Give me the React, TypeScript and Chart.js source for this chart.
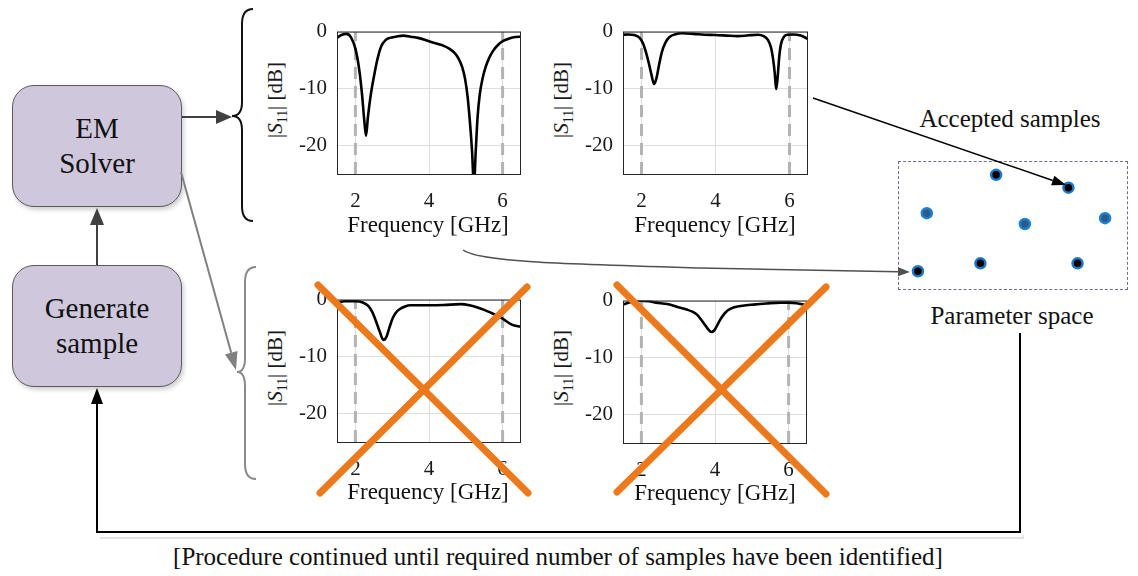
import React, { useEffect, useRef } from 'react';
import { Chart, registerables } from 'chart.js';

Chart.register(...registerables);

const SERIF = "'Liberation Serif', 'DejaVu Serif', serif";

// ---------- data ----------
const freqTicks = [2, 4, 6];
const dbTicks = [0, -10, -20];
const bandFreqs = [2, 6];
const freqMin = 1.5;
const freqMax = 6.5;
const dbMin = -25;
const dbMax = 0;

const freqA = [1.5, 1.62, 1.76, 1.88, 2.0, 2.1, 2.18, 2.24, 2.29, 2.34, 2.42, 2.5, 2.6, 2.7, 2.82, 2.94, 3.1, 3.3, 3.5, 3.7, 4.0, 4.2, 4.4, 4.55, 4.7, 4.8, 4.9, 4.98, 5.05, 5.12, 5.17, 5.22, 5.27, 5.32, 5.38, 5.45, 5.54, 5.63, 5.75, 5.88, 6.03, 6.2, 6.35, 6.5];
const s11A = [-1.1, -0.6, -0.4, -1.0, -3.0, -6.5, -11, -15.5, -18.3, -15, -11, -8.0, -4.8, -2.6, -1.5, -1.1, -0.9, -0.7, -0.9, -1.1, -1.7, -2.1, -2.5, -3.0, -3.8, -4.7, -6.2, -8.3, -11.5, -16.5, -21, -27, -21, -15, -11, -8.4, -6.2, -4.7, -3.3, -2.3, -1.6, -1.15, -0.95, -0.9];

const freqB = [1.5, 1.65, 1.8, 1.95, 2.05, 2.12, 2.2, 2.27, 2.34, 2.4, 2.47, 2.55, 2.65, 2.75, 2.9, 3.1, 3.4, 3.7, 4.0, 4.3, 4.6, 4.9, 5.15, 5.3, 5.42, 5.5, 5.56, 5.6, 5.64, 5.68, 5.72, 5.77, 5.85, 5.95, 6.1, 6.3, 6.5];
const s11B = [-0.55, -0.5, -0.6, -1.1, -2.2, -3.6, -5.6, -7.6, -9.2, -8.3, -6.0, -3.6, -1.9, -1.0, -0.5, -0.3, -0.4, -0.55, -0.6, -0.7, -0.8, -0.65, -0.55, -0.8, -1.5, -2.8, -5.0, -7.2, -10.1, -8.0, -4.6, -2.2, -0.9, -0.55, -0.5, -0.7, -1.3];

const freqC = [1.5, 1.7, 2.0, 2.2, 2.35, 2.46, 2.56, 2.66, 2.76, 2.84, 2.92, 3.01, 3.1, 3.2, 3.35, 3.5, 3.8, 4.05, 4.4, 4.87, 5.1, 5.32, 5.5, 5.68, 5.85, 5.95, 6.1, 6.25, 6.5];
const s11C = [-0.55, -0.3, -0.3, -0.5, -1.1, -2.2, -3.8, -5.6, -7.1, -6.6, -5.0, -3.3, -2.3, -1.7, -1.2, -1.0, -1.0, -1.0, -0.95, -0.8, -1.0, -1.4, -1.8, -2.3, -2.8, -3.1, -3.8, -4.4, -4.8];

const freqD = [1.5, 1.7, 1.95, 2.2, 2.4, 2.7, 3.03, 3.25, 3.4, 3.53, 3.63, 3.72, 3.81, 3.9, 3.97, 4.03, 4.12, 4.22, 4.35, 4.5, 4.75, 5.04, 5.4, 5.77, 6.0, 6.22, 6.4, 6.5];
const s11D = [-0.7, -0.3, 0, -0.1, -0.35, -0.6, -1.2, -1.6, -2.0, -2.6, -3.4, -4.2, -5.0, -5.5, -5.3, -4.7, -3.6, -2.6, -1.7, -1.2, -0.9, -0.7, -0.5, -0.35, -0.35, -0.45, -0.7, -1.0];

// parameter space samples (normalised 0..10)
const acceptedX = [4.26, 7.43, 0.83, 3.57, 7.83];
const acceptedY = [8.99, 7.98, 1.4, 2.02, 2.02];
const rejectedX = [1.22, 5.52, 9.04];
const rejectedY = [5.97, 5.12, 5.58];

// ---------- helpers ----------
const boxPlugin = {
  id: 'boxFrame',
  afterDraw(chart: any) {
    const { ctx, chartArea } = chart;
    ctx.save();
    ctx.strokeStyle = '#262626';
    ctx.lineWidth = 1;
    ctx.strokeRect(chartArea.left + 0.5, chartArea.top + 0.5, chartArea.right - chartArea.left - 1, chartArea.bottom - chartArea.top);
    ctx.restore();
  },
};

type S11Props = { left: number; top: number; width: number; height: number; freq: number[]; db: number[] };

function S11Chart({ left, top, width, height, freq, db }: S11Props) {
  const ref = useRef<HTMLCanvasElement | null>(null);
  useEffect(() => {
    if (!ref.current) return;
    const tickFont = { family: SERIF, size: 21 };
    const chart = new Chart(ref.current, {
      type: 'scatter',
      data: {
        datasets: [
          {
            data: freq.map((x, i) => ({ x, y: db[i] })),
            showLine: true,
            borderColor: '#000',
            borderWidth: 2.6,
            pointRadius: 0,
            cubicInterpolationMode: 'monotone',
          } as any,
          ...bandFreqs.map((f) => ({
            data: [
              { x: f, y: dbMin },
              { x: f, y: dbMax },
            ],
            showLine: true,
            borderColor: '#b3b3b3',
            borderWidth: 3,
            borderDash: [12, 7],
            pointRadius: 0,
          })),
        ],
      },
      options: {
        animation: false,
        responsive: false,
        events: [],
        plugins: { legend: { display: false }, tooltip: { enabled: false } },
        layout: { autoPadding: false, padding: { top: 16, right: 6, left: 0, bottom: 0 } },
        scales: {
          x: {
            type: 'linear',
            min: freqMin,
            max: freqMax,
            afterBuildTicks: (s: any) => {
              s.ticks = freqTicks.map((v) => ({ value: v }));
            },
            afterFit: (s: any) => {
              s.height = 40;
            },
            grid: { color: '#dedede', drawTicks: false },
            border: { display: false },
            ticks: { padding: 15, font: tickFont, color: '#1a1a1a', maxRotation: 0, autoSkip: false, callback: (v: any) => String(v) },
          },
          y: {
            type: 'linear',
            min: dbMin,
            max: dbMax,
            afterBuildTicks: (s: any) => {
              s.ticks = dbTicks.map((v) => ({ value: v }));
            },
            afterFit: (s: any) => {
              s.width = 47;
            },
            grid: { color: '#dedede', drawTicks: false },
            border: { display: false },
            ticks: { padding: 10, font: tickFont, color: '#1a1a1a', autoSkip: false, callback: (v: any) => String(v) },
          },
        },
      } as any,
      plugins: [boxPlugin],
    });
    return () => chart.destroy();
  }, []);
  return (
    <canvas
      ref={ref}
      width={width}
      height={height}
      style={{ position: 'absolute', left, top, width, height }}
    />
  );
}

function ParamChart() {
  const ref = useRef<HTMLCanvasElement | null>(null);
  useEffect(() => {
    if (!ref.current) return;
    const chart = new Chart(ref.current, {
      type: 'scatter',
      data: {
        datasets: [
          {
            data: acceptedX.map((x, i) => ({ x, y: acceptedY[i] })),
            pointRadius: 5,
            pointBorderWidth: 2.5,
            pointBackgroundColor: '#000',
            pointBorderColor: '#1d78c8',
            clip: false,
          } as any,
          {
            data: rejectedX.map((x, i) => ({ x, y: rejectedY[i] })),
            pointRadius: 5,
            pointBorderWidth: 2.5,
            pointBackgroundColor: '#2e5a88',
            pointBorderColor: '#1e82d2',
            clip: false,
          } as any,
        ],
      },
      options: {
        animation: false,
        responsive: false,
        events: [],
        plugins: { legend: { display: false }, tooltip: { enabled: false } },
        layout: { autoPadding: false, padding: 0 },
        scales: {
          x: { type: 'linear', display: false, min: 0, max: 10 },
          y: { type: 'linear', display: false, min: 0, max: 10 },
        },
      } as any,
    });
    return () => chart.destroy();
  }, []);
  return <canvas ref={ref} width={228} height={127} style={{ position: 'absolute', left: 0, top: 0, width: 228, height: 127 }} />;
}

function Label({ x, y, size, children, rotate, color }: { x: number; y: number; size: number; children: any; rotate?: number; color?: string }) {
  return (
    <div
      style={{
        position: 'absolute',
        left: x,
        top: y,
        transform: `translate(-50%, -50%)${rotate ? ` rotate(${rotate}deg)` : ''}`,
        whiteSpace: 'nowrap',
        fontFamily: SERIF,
        fontSize: size,
        lineHeight: 1,
        color: color || '#111',
      }}
    >
      {children}
    </div>
  );
}

function S11Title({ x, y }: { x: number; y: number }) {
  return (
    <Label x={x} y={y} size={21} rotate={-90} color="#1a1a1a">
      |<i>S</i>
      <span style={{ fontSize: '0.65em', position: 'relative', top: '0.35em' }}>11</span>| [dB]
    </Label>
  );
}

function head(x1: number, y1: number, x2: number, y2: number, len: number, w: number) {
  const dx = x2 - x1;
  const dy = y2 - y1;
  const L = Math.hypot(dx, dy);
  const ux = dx / L;
  const uy = dy / L;
  const bx = x2 - ux * len;
  const by = y2 - uy * len;
  const px = -uy * (w / 2);
  const py = ux * (w / 2);
  return { pts: `${x2},${y2} ${bx + px},${by + py} ${bx - px},${by - py}`, bx, by };
}

function Arrow({ x1, y1, x2, y2, color, width, len, w }: { x1: number; y1: number; x2: number; y2: number; color: string; width: number; len: number; w: number }) {
  const h = head(x1, y1, x2, y2, len, w);
  return (
    <g>
      <line x1={x1} y1={y1} x2={h.bx} y2={h.by} stroke={color} strokeWidth={width} />
      <polygon points={h.pts} fill={color} />
    </g>
  );
}

function Block({ top, lines }: { top: number; lines: string[] }) {
  return (
    <div
      style={{
        position: 'absolute',
        left: 12,
        top,
        width: 170,
        height: 122,
        boxSizing: 'border-box',
        borderRadius: 22,
        background: '#cfc8dc',
        border: '1px solid #5a5a5a',
        boxShadow: '2px 3px 4px rgba(0,0,0,0.18)',
        display: 'flex',
        flexDirection: 'column',
        alignItems: 'center',
        justifyContent: 'center',
        fontFamily: SERIF,
        fontSize: 29,
        lineHeight: '35px',
        color: '#111',
      }}
    >
      {lines.map((l) => (
        <div key={l}>{l}</div>
      ))}
    </div>
  );
}

export default function App() {
  const loopHead = head(97, 420, 97, 388, 16, 12);
  const curveHead = head(860, 271, 910, 272, 12, 9);
  return (
    <div style={{ position: 'absolute', left: 0, top: 0, width: 1138, height: 576, background: '#fff', overflow: 'hidden' }}>
      <Block top={85} lines={['EM', 'Solver']} />
      <Block top={265} lines={['Generate', 'sample']} />

      <S11Chart left={290} top={9} width={237} height={205} freq={freqA} db={s11A} />
      <S11Chart left={576} top={9} width={238} height={205} freq={freqB} db={s11B} />
      <S11Chart left={290} top={277} width={237} height={205} freq={freqC} db={s11C} />
      <S11Chart left={576} top={278} width={237} height={205} freq={freqD} db={s11D} />

      <S11Title x={275} y={100} />
      <S11Title x={561} y={100} />
      <S11Title x={275} y={368} />
      <S11Title x={561} y={368} />

      <Label x={428} y={224} size={23}>Frequency [GHz]</Label>
      <Label x={715} y={224} size={23}>Frequency [GHz]</Label>
      <Label x={428} y={491} size={23}>Frequency [GHz]</Label>
      <Label x={715} y={492} size={23}>Frequency [GHz]</Label>

      <div style={{ position: 'absolute', left: 898, top: 161, width: 230, height: 129, boxSizing: 'border-box', border: '1px dashed #76699a' }}>
        <ParamChart />
      </div>

      <Label x={1010} y={118} size={25}>Accepted samples</Label>
      <Label x={1012} y={315} size={25}>Parameter space</Label>
      <Label x={558} y={556} size={25}>[Procedure continued until required number of samples have been identified]</Label>

      <svg width={1138} height={576} style={{ position: 'absolute', left: 0, top: 0, pointerEvents: 'none' }}>
        {/* braces */}
        <path d="M 253 9 Q 242 9 242 24 L 242 102 Q 242 116 232 116 Q 242 116 242 130 L 242 206 Q 242 221 253 221" fill="none" stroke="#111" strokeWidth={2} />
        <path d="M 256 267 Q 245 267 245 282 L 245 358 Q 245 372 237 372 Q 245 372 245 386 L 245 464 Q 245 479 256 479" fill="none" stroke="#8a8a8a" strokeWidth={2} />

        {/* flow arrows */}
        <Arrow x1={182} y1={117} x2={232} y2={117} color="#404040" width={2} len={16} w={14} />
        <Arrow x1={97} y1={265} x2={97} y2={208} color="#404040" width={2} len={17} w={14} />
        <Arrow x1={181} y1={172} x2={236} y2={370} color="#808080" width={2} len={18} w={13} />

        {/* loop back */}
        <polyline points="1023,535 1023,538 100,538" fill="none" stroke="#e2e2e2" strokeWidth={2} />
        <polyline points={`1020,333 1020,532 97,532 97,${loopHead.by}`} fill="none" stroke="#000" strokeWidth={2} />
        <polygon points={loopHead.pts} fill="#000" />

        {/* plot to samples */}
        <Arrow x1={813} y1={98} x2={1066} y2={185} color="#000" width={1.5} len={14} w={10} />
        <path d={`M 463 250 C 480 262 560 264 700 268 L ${curveHead.bx} ${curveHead.by}`} fill="none" stroke="#505050" strokeWidth={1.5} />
        <polygon points={curveHead.pts} fill="#505050" />

        {/* rejection crosses */}
        <g stroke="#ec7a1c" strokeWidth={7} strokeLinecap="round">
          <line x1={318} y1={285} x2={528} y2={493} />
          <line x1={320} y1={493} x2={527} y2={287} />
          <line x1={617} y1={285} x2={826} y2={494} />
          <line x1={617} y1={492} x2={826} y2={287} />
        </g>
      </svg>
    </div>
  );
}
